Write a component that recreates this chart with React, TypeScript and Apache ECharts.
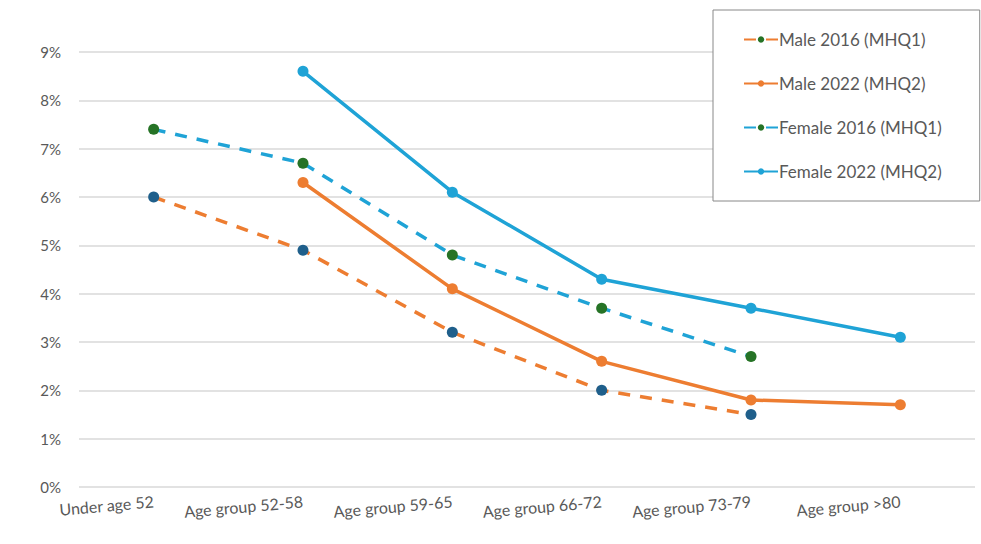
import React, { useEffect, useRef } from "react";
import * as echarts from "echarts";

const categories = ["Under age 52", "Age group 52-58", "Age group 59-65", "Age group 66-72", "Age group 73-79", "Age group >80"];
const male2016 = [6.0, 4.9, 3.2, 2.0, 1.5, null];
const male2022 = [null, 6.3, 4.1, 2.6, 1.8, 1.7];
const female2016 = [7.4, 6.7, 4.8, 3.7, 2.7, null];
const female2022 = [null, 8.6, 6.1, 4.3, 3.7, 3.1];

const ORANGE = "#ed7d31";
const BLUE = "#1fa3d6";
const GREEN = "#267326";
const NAVY = "#1f5f8b";

export default function App() {
  const ref = useRef<HTMLDivElement>(null);
  useEffect(() => {
    const chart = echarts.init(ref.current!, null, { renderer: "svg" });
    const font = "Lato, 'Open Sans', sans-serif";
    chart.setOption({
      animation: false,
      textStyle: { fontFamily: font },
      grid: { left: 79, right: 6, top: 52, bottom: 57 },
      legend: {
        orient: "vertical",
        left: 713,
        top: 10,
        padding: [21, 38, 21, 30],
        itemGap: 27,
        itemWidth: 34,
        itemHeight: 8,
        borderColor: "#888",
        borderWidth: 1,
        backgroundColor: "#fff",
        textStyle: { fontSize: 17, color: "#595959", fontFamily: font, padding: [0, 0, 0, -4] },
        data: ["Male 2016 (MHQ1)", "Male 2022 (MHQ2)", "Female 2016 (MHQ1)", "Female 2022 (MHQ2)"],
      },
      xAxis: {
        type: "category",
        data: categories,
        boundaryGap: true,
        axisLine: { show: false },
        axisTick: { show: false },
        axisLabel: { color: "#595959", fontSize: 16, rotate: 5, margin: 14, interval: 0 },
      },
      yAxis: {
        type: "value",
        min: 0,
        max: 9,
        interval: 1,
        axisLabel: { formatter: "{value}%", color: "#595959", fontSize: 15, margin: 18 },
        splitLine: { lineStyle: { color: "#d9d9d9", width: 1.5 } },
      },
      series: [
        {
          name: "Male 2016 (MHQ1)", type: "line", data: male2016.map((v) => ({ value: v, itemStyle: { color: NAVY } })),
          symbol: "circle", symbolSize: 11, showAllSymbol: true,
          lineStyle: { color: ORANGE, width: 3.5, type: [12, 10] }, itemStyle: { color: GREEN },
        },
        {
          name: "Male 2022 (MHQ2)", type: "line", data: male2022,
          symbol: "circle", symbolSize: 11,
          lineStyle: { color: ORANGE, width: 3.5 }, itemStyle: { color: ORANGE },
        },
        {
          name: "Female 2016 (MHQ1)", type: "line", data: female2016,
          symbol: "circle", symbolSize: 11,
          lineStyle: { color: BLUE, width: 3.5, type: [12, 10] }, itemStyle: { color: GREEN },
        },
        {
          name: "Female 2022 (MHQ2)", type: "line", data: female2022,
          symbol: "circle", symbolSize: 11,
          lineStyle: { color: BLUE, width: 3.5 }, itemStyle: { color: BLUE },
        },
      ],
    });
    return () => chart.dispose();
  }, []);
  return <div ref={ref} style={{ position: "fixed", left: 0, top: 0, width: 981, height: 544, background: "#fff" }} />;
}
